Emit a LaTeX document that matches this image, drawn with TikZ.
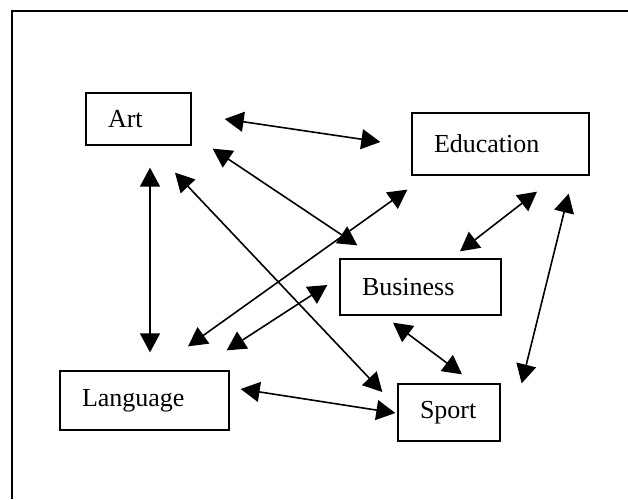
\documentclass[tikz,border=0pt]{standalone}
\usepackage{fontspec}
\setmainfont{Liberation Serif}
\usepackage{tikz}
\usetikzlibrary{arrows.meta, calc}

\begin{document}
\begin{tikzpicture}[x=1pt,y=-1pt,>={Triangle[length=19pt,width=20pt]},
        box/.style={draw,line width=1.3pt,rectangle,inner xsep=22pt,inner ysep=0pt,
            align=left,font=\fontsize{26}{30}\selectfont},
        link/.style={<->,line width=1.6pt}]
        % page and outer frame
        \useasboundingbox (0,0) rectangle (628,499);
        \draw[line width=1.6pt] (12,499) -- (12,11) -- (628,11);
        % the boxes
        \node[box,text width=61pt,minimum height=52pt](art) at (138.5,119) {Art};
        \node[box,text width=133pt,minimum height=62pt](edu) at (500.5,144) {Education};
        \node[box,text width=117pt,minimum height=56pt](bus) at (420.5,287) {Business};
        \node[box,text width=125pt,minimum height=59pt](lang) at (144.5,400.5) {Language};
        \node[box,text width=58pt,minimum height=57pt](sport) at (449,412.5) {Sport};
        % the arrows
        \path[link] ($(art.east)+(33,0)$) edge ($(edu.west)+(-31,-2)$)
                    ($(art.south east)+(21,3)$) edge ($(bus.north west)+(18,-13)$)
                    ($(art.south)+(11.5,22)$) edge ($(lang.north)+(5.5,-18)$)
                    ($(art.south)+(36.5,27)$) edge ($(sport.west)+(-15,-20.5)$)
                    ($(lang.north)+(43.5,-24)$) edge ($(edu.south west)+(-4,14)$)
                    ($(lang.north east)+(-3,-20)$) edge ($(bus.west)+(-12,-2)$)
                    ($(bus.north)+(39.5,-7)$) edge ($(edu.south)+(36.5,16)$)
                    ($(bus.south)+(-27.5,7)$) edge ($(sport.north)+(13,-9)$)
                    ($(sport.north east)+(21,0)$) edge ($(edu.south east)+(-21,18)$)
                    ($(lang.east)+(11,-11.5)$) edge ($(sport.west)+(-2,0.5)$);
\end{tikzpicture}
\end{document}
